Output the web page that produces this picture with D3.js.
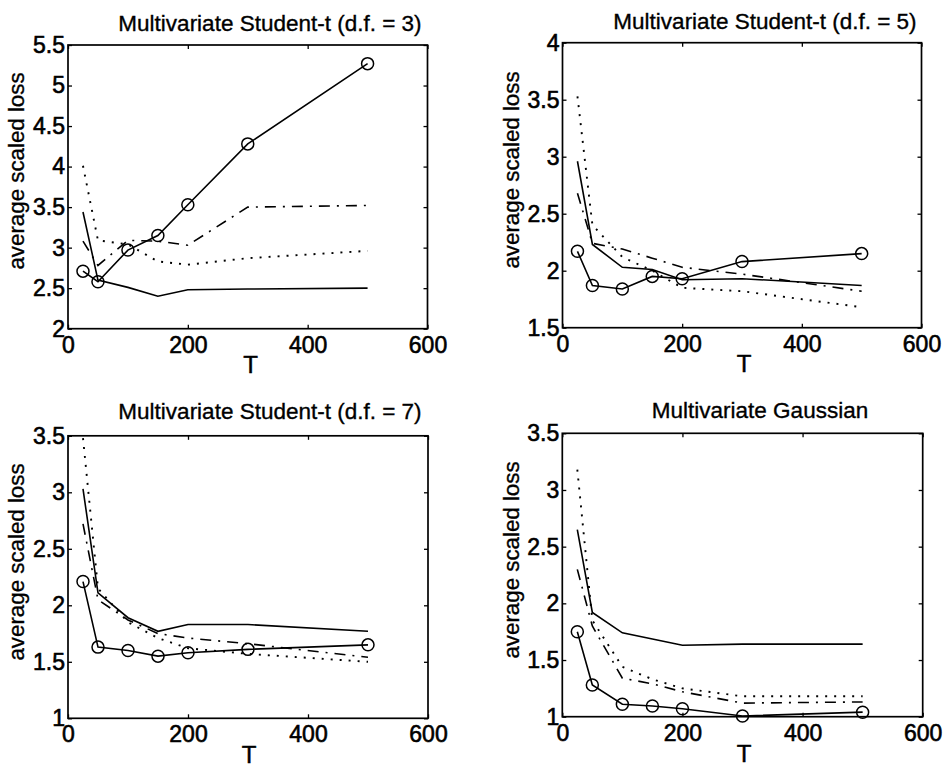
<!DOCTYPE html>
<html>
<head>
<meta charset="utf-8">
<script src="https://cdn.jsdelivr.net/npm/d3@7"></script>
<style>
  html, body { margin: 0; padding: 0; background: #fff; }
  svg { display: block; }
  text { font-family: "Liberation Sans", Arial, Helvetica, sans-serif; fill: #000; }
</style>
</head>
<body>
<svg id="chart" width="949" height="769"></svg>
<script>
// ---------------- data ----------------
const T = [25, 50, 100, 150, 200, 300, 500];
const xTicks = [0, 200, 400, 600];

const titles = [
  "Multivariate Student-t (d.f. = 3)",
  "Multivariate Student-t (d.f. = 5)",
  "Multivariate Student-t (d.f. = 7)",
  "Multivariate Gaussian"
];
const yLabel = "average scaled loss";
const xLabel = "T";

const yTicksDf3 = [2, 2.5, 3, 3.5, 4, 4.5, 5, 5.5];
const yTicksDf5 = [1.5, 2, 2.5, 3, 3.5, 4];
const yTicksDf7 = [1, 1.5, 2, 2.5, 3, 3.5];
const yTicksGauss = [1, 1.5, 2, 2.5, 3, 3.5];

// series: circles (solid + o), solid, dash-dot, dotted
const circleDf3  = [2.71, 2.58, 2.97, 3.15, 3.53, 4.28, 5.27];
const solidDf3   = [3.44, 2.60, 2.51, 2.40, 2.48, 2.49, 2.50];
const dashDotDf3 = [3.08, 2.78, 3.09, 3.08, 3.03, 3.50, 3.52];
const dottedDf3  = [4.01, 3.09, 3.04, 2.83, 2.79, 2.87, 2.96];

const circleDf5  = [2.17, 1.87, 1.84, 1.95, 1.93, 2.08, 2.15];
const solidDf5   = [2.96, 2.23, 2.03, 2.01, 1.92, 1.93, 1.87];
const dashDotDf5 = [2.68, 2.24, 2.19, 2.11, 2.03, 1.97, 1.82];
const dottedDf5  = [3.53, 2.40, 2.12, 2.00, 1.85, 1.82, 1.68];

const circleDf7  = [2.21, 1.63, 1.60, 1.55, 1.58, 1.61, 1.65];
const solidDf7   = [3.03, 2.11, 1.89, 1.77, 1.83, 1.83, 1.77];
const dashDotDf7 = [2.72, 2.05, 1.87, 1.75, 1.71, 1.66, 1.54];
const dottedDf7  = [3.48, 2.15, 1.85, 1.71, 1.62, 1.57, 1.50];

const circleGauss  = [1.75, 1.28, 1.11, 1.095, 1.07, 1.006, 1.04];
const solidGauss   = [2.65, 1.92, 1.74, 1.685, 1.63, 1.64, 1.64];
const dashDotGauss = [2.30, 1.80, 1.34, 1.29, 1.22, 1.12, 1.13];
const dottedGauss  = [3.18, 1.85, 1.44, 1.33, 1.25, 1.18, 1.18];

// ---------------- layout ----------------
const panels = [
  { title: titles[0], yTicks: yTicksDf3, series: [circleDf3, solidDf3, dashDotDf3, dottedDf3],
    box: { l: 68, r: 427.5, t: 45, b: 328.7 }, titlePos: [270, 30.5], yLabPos: [24, 171], xLabPos: [250.5, 373] },
  { title: titles[1], yTicks: yTicksDf5, series: [circleDf5, solidDf5, dashDotDf5, dottedDf5],
    box: { l: 562.5, r: 921.5, t: 42.7, b: 327.7 }, titlePos: [765, 28.5], yLabPos: [519, 170], xLabPos: [744, 371.5] },
  { title: titles[2], yTicks: yTicksDf7, series: [circleDf7, solidDf7, dashDotDf7, dottedDf7],
    box: { l: 68, r: 428, t: 435.8, b: 718.3 }, titlePos: [270, 418.5], yLabPos: [23.5, 562], xLabPos: [249, 763] },
  { title: titles[3], yTicks: yTicksGauss, series: [circleGauss, solidGauss, dashDotGauss, dottedGauss],
    box: { l: 562.3, r: 922.7, t: 433.3, b: 716.7 }, titlePos: [760, 417.5], yLabPos: [518.5, 560], xLabPos: [744, 761.5] }
];

const styles = [
  { dash: null, width: 1.6, markers: true },
  { dash: null, width: 1.6, markers: false },
  { dash: "11,7,2,7", width: 1.6, markers: false },
  { dash: "2,7", width: 1.9, markers: false }
];

const svg = d3.select("#chart");
svg.append("rect").attr("width", 949).attr("height", 769).attr("fill", "#fff");

const tickLen = 4;

panels.forEach(p => {
  const b = p.box;
  const yd = [p.yTicks[0], p.yTicks[p.yTicks.length - 1]];
  const x = d3.scaleLinear().domain([xTicks[0], xTicks[xTicks.length - 1]]).range([b.l, b.r]);
  const y = d3.scaleLinear().domain(yd).range([b.b, b.t]);
  const g = svg.append("g");

  // frame
  g.append("rect")
    .attr("x", b.l).attr("y", b.t).attr("width", b.r - b.l).attr("height", b.b - b.t)
    .attr("fill", "none").attr("stroke", "#000").attr("stroke-width", 1.7);

  const fmt = d => String(d);

  const axB = g.append("g").attr("transform", `translate(0,${b.b})`)
    .call(d3.axisBottom(x).tickValues(xTicks).tickFormat(fmt).tickSizeInner(-tickLen).tickSizeOuter(0).tickPadding(7.5));
  const axT = g.append("g").attr("transform", `translate(0,${b.t})`)
    .call(d3.axisTop(x).tickValues(xTicks).tickFormat("").tickSizeInner(-tickLen).tickSizeOuter(0));
  const axL = g.append("g").attr("transform", `translate(${b.l},0)`)
    .call(d3.axisLeft(y).tickValues(p.yTicks).tickFormat(fmt).tickSizeInner(-tickLen).tickSizeOuter(0).tickPadding(3));
  const axR = g.append("g").attr("transform", `translate(${b.r},0)`)
    .call(d3.axisRight(y).tickValues(p.yTicks).tickFormat("").tickSizeInner(-tickLen).tickSizeOuter(0));

  [axB, axT, axL, axR].forEach(a => {
    a.select(".domain").remove();
    a.selectAll(".tick line").attr("stroke", "#000").attr("stroke-width", 1.3);
    a.selectAll(".tick text")
      .attr("font-family", '"Liberation Sans", Arial, sans-serif')
      .attr("font-size", 23).attr("fill", "#000")
      .attr("stroke", "#000").attr("stroke-width", 0.6);
  });

  // series
  const line = d3.line().x((d, i) => x(T[i])).y(d => y(d));
  p.series.forEach((vals, si) => {
    const st = styles[si];
    const path = g.append("path").datum(vals)
      .attr("d", line)
      .attr("fill", "none").attr("stroke", "#000")
      .attr("stroke-width", st.width)
      .attr("stroke-linejoin", "miter");
    if (st.dash) path.attr("stroke-dasharray", st.dash);
    if (st.markers) {
      g.selectAll(null).data(vals).enter().append("circle")
        .attr("cx", (d, i) => x(T[i])).attr("cy", d => y(d))
        .attr("r", 6).attr("fill", "none").attr("stroke", "#000").attr("stroke-width", 1.5);
    }
  });

  // texts
  g.append("text").attr("x", p.titlePos[0]).attr("y", p.titlePos[1])
    .attr("text-anchor", "middle").attr("font-size", 22.5)
    .attr("stroke", "#000").attr("stroke-width", 0.35).text(p.title);
  g.append("text")
    .attr("transform", `translate(${p.yLabPos[0]},${p.yLabPos[1]}) rotate(-90)`)
    .attr("text-anchor", "middle").attr("font-size", 22.3)
    .attr("stroke", "#000").attr("stroke-width", 0.35).text(yLabel);
  g.append("text").attr("x", p.xLabPos[0]).attr("y", p.xLabPos[1])
    .attr("text-anchor", "middle").attr("font-size", 24)
    .attr("stroke", "#000").attr("stroke-width", 0.5).text(xLabel);
});
</script>
</body>
</html>
